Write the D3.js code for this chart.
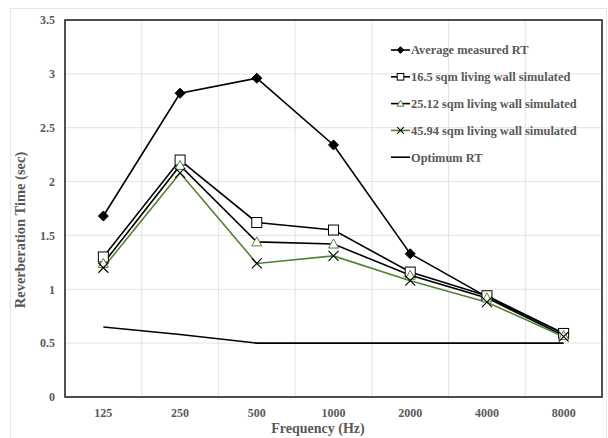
<!DOCTYPE html>
<html lang="en">
<head>
<meta charset="utf-8">
<title>Reverberation Time</title>
<script src="https://cdn.jsdelivr.net/npm/d3@7"></script>
<style>
  body { margin: 0; background: #fff; }
  text { font-family: "Liberation Serif", "Times New Roman", serif; font-weight: bold; fill: #595959; }
</style>
</head>
<body>
<script>
// data
var freqs = ["125", "250", "500", "1000", "2000", "4000", "8000"];
var avgMeasured = [1.68, 2.82, 2.96, 2.34, 1.33, 0.93, 0.59];
var wall16 = [1.30, 2.20, 1.62, 1.55, 1.16, 0.94, 0.59];
var wall25 = [1.24, 2.15, 1.44, 1.42, 1.13, 0.92, 0.57];
var wall45 = [1.20, 2.08, 1.24, 1.31, 1.08, 0.88, 0.56];
var optimum = [0.65, 0.58, 0.50, 0.50, 0.50, 0.50, 0.50];
var yTicks = [0, 0.5, 1, 1.5, 2, 2.5, 3, 3.5];

var green = "#548235";
var series = [
  {name: "Average measured RT", values: avgMeasured, line: "#000", marker: "diamond", mstroke: "#000", mfill: "#000"},
  {name: "16.5 sqm living wall simulated", values: wall16, line: "#000", marker: "square", mstroke: "#000", mfill: "#fff"},
  {name: "25.12 sqm living wall simulated", values: wall25, line: "#000", marker: "triangle", mstroke: green, mfill: "#fff"},
  {name: "45.94 sqm living wall simulated", values: wall45, line: green, marker: "x", mstroke: "#000", mfill: "none"},
  {name: "Optimum RT", values: optimum, line: "#000", marker: null}
];

var w = 608, h = 438;
var plotL = 65, plotR = 602, plotT = 20, plotB = 397;

var svg = d3.select("body").append("svg").attr("width", w).attr("height", h);

// chart area border
svg.append("rect").attr("x", 10.5).attr("y", 8.5).attr("width", 596).attr("height", 440)
  .attr("fill", "none").attr("stroke", "#e6e6e6");

var x = d3.scaleBand().domain(freqs).range([plotL, plotR]);
var y = d3.scaleLinear().domain([0, 3.5]).range([plotB, plotT]);

// gridlines
svg.selectAll(".hgrid").data(yTicks).enter().append("line")
  .attr("x1", plotL).attr("x2", plotR)
  .attr("y1", function(d) { return y(d); }).attr("y2", function(d) { return y(d); })
  .attr("stroke", "#e3e3e3");
svg.selectAll(".vgrid").data(freqs.slice(1)).enter().append("line")
  .attr("x1", function(d) { return x(d); }).attr("x2", function(d) { return x(d); })
  .attr("y1", plotT).attr("y2", plotB)
  .attr("stroke", "#e3e3e3");

// axes
var yAxis = d3.axisLeft(y).tickValues(yTicks).tickSize(0).tickPadding(10)
  .tickFormat(function(d) { return d; });
var gy = svg.append("g").attr("transform", "translate(" + plotL + ",0)").call(yAxis);
gy.select(".domain").remove();
gy.selectAll("text").attr("font-size", 12).style("fill", "#595959");

var xAxis = d3.axisBottom(x).tickSize(0).tickPadding(11);
var gx = svg.append("g").attr("transform", "translate(0," + plotB + ")").call(xAxis);
gx.select(".domain").remove();
gx.selectAll("text").attr("font-size", 12).style("fill", "#595959");

// plot border
svg.append("rect").attr("x", plotL).attr("y", plotT).attr("width", plotR - plotL).attr("height", plotB - plotT)
  .attr("fill", "none").attr("stroke", "#262626").attr("stroke-width", 1.6);

// lines
var line = d3.line()
  .x(function(d, i) { return x(freqs[i]) + x.bandwidth() / 2; })
  .y(function(d) { return y(d); });

function drawMarker(g, type, cx, cy, s, r) {
  if (type == "diamond") {
    g.append("path").attr("d", "M" + cx + "," + (cy - r) + "L" + (cx + r) + "," + cy + "L" + cx + "," + (cy + r) + "L" + (cx - r) + "," + cy + "Z")
      .attr("fill", s.mfill).attr("stroke", s.mstroke);
  } else if (type == "square") {
    g.append("rect").attr("x", cx - r).attr("y", cy - r).attr("width", 2 * r).attr("height", 2 * r)
      .attr("fill", s.mfill).attr("stroke", s.mstroke).attr("stroke-width", 1);
  } else if (type == "triangle") {
    g.append("path").attr("d", "M" + cx + "," + (cy - r) + "L" + (cx + r) + "," + (cy + r * 0.8) + "L" + (cx - r) + "," + (cy + r * 0.8) + "Z")
      .attr("fill", s.mfill).attr("stroke", s.mstroke).attr("stroke-width", 1);
  } else if (type == "x") {
    g.append("path").attr("d", "M" + (cx - r) + "," + (cy - r) + "L" + (cx + r) + "," + (cy + r) +
      "M" + (cx + r) + "," + (cy - r) + "L" + (cx - r) + "," + (cy + r))
      .attr("stroke", s.mstroke).attr("stroke-width", 1.1);
  }
}

series.forEach(function(s) {
  svg.append("path").datum(s.values).attr("d", line)
    .attr("fill", "none").attr("stroke", s.line).attr("stroke-width", 1.6);
});
series.forEach(function(s) {
  if (!s.marker) return;
  var g = svg.append("g");
  s.values.forEach(function(v, i) {
    drawMarker(g, s.marker, x(freqs[i]) + x.bandwidth() / 2, y(v), s, 5);
  });
});

// legend
var lg = svg.append("g").attr("transform", "translate(391,50)");
series.forEach(function(s, i) {
  var row = lg.append("g").attr("transform", "translate(0," + (i * 26.8) + ")");
  row.append("line").attr("x1", 0).attr("x2", 19).attr("y1", 0).attr("y2", 0)
    .attr("stroke", s.line).attr("stroke-width", 1.6);
  if (s.marker) drawMarker(row.append("g"), s.marker, 9.5, 0, s, 3.3);
  row.append("text").attr("x", 20).attr("y", 4.3).attr("font-size", 12.4).text(s.name);
});

// axis titles
svg.append("text").attr("x", 318).attr("y", 433).attr("text-anchor", "middle")
  .attr("font-size", 14).text("Frequency (Hz)");
svg.append("text").attr("transform", "translate(25,230) rotate(-90)").attr("text-anchor", "middle")
  .attr("font-size", 14.5).text("Reverberation Time (sec)");
</script>
</body>
</html>
